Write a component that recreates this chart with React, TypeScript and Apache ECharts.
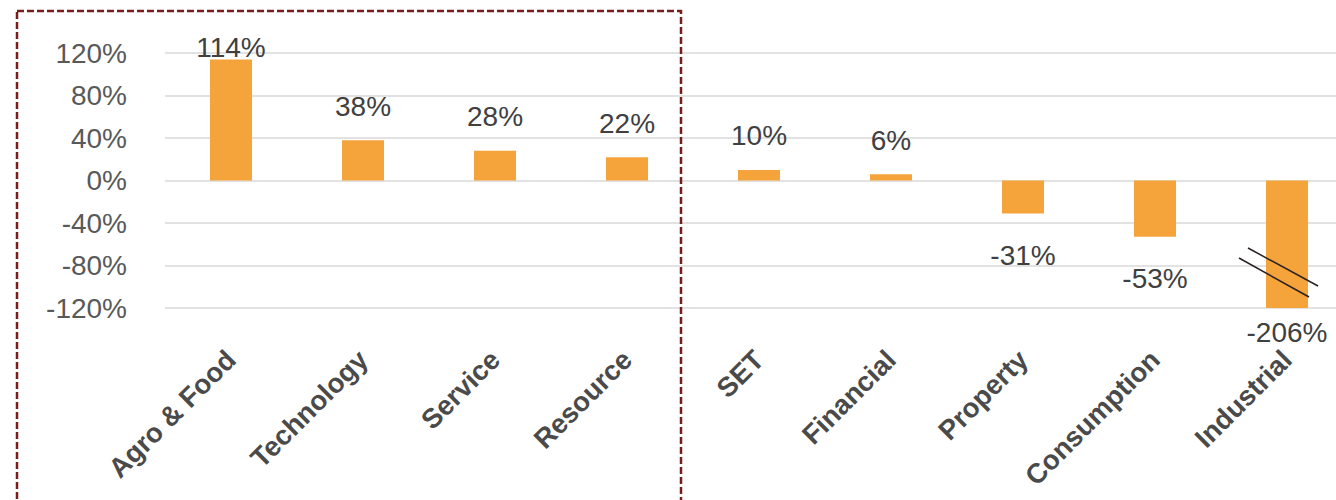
import React, { useEffect, useRef } from "react";
import * as echarts from "echarts";

const categories = [
  "Agro & Food",
  "Technology",
  "Service",
  "Resource",
  "SET",
  "Financial",
  "Property",
  "Consumption",
  "Industrial",
];
const values = [114, 38, 28, 22, 10, 6, -31, -53, -206];
const yMin = -120;
const yMax = 120;
const yInterval = 40;

const BAR_COLOR = "#F4A43A";
const FONT = "'Liberation Sans', Arial, sans-serif";

function labelFor(v: number, i: number) {
  const clipped = v < yMin || v > yMax;
  let distance = v >= 0 ? 20 : 28;
  if (v >= 0 && v + 10 > yMax) distance = -2;
  if (clipped) distance = 10;
  return {
    position: v >= 0 ? "top" : "bottom",
    distance,
  };
}

export default function App() {
  const ref = useRef<HTMLDivElement>(null);
  useEffect(() => {
    if (!ref.current) return;
    const chart = echarts.init(ref.current, undefined, { renderer: "svg" });
    chart.setOption({
      animation: false,
      backgroundColor: "#ffffff",
      grid: {
        left: 165,
        top: 53,
        height: 255,
        width: 1188,
        containLabel: false,
        outerBoundsMode: "none",
      },
      xAxis: {
        type: "category",
        data: categories,
        position: "bottom",
        axisLine: { show: false, onZero: false },
        axisTick: { show: false },
        axisLabel: {
          rotate: 45,
          margin: 47,
          interval: 0,
          fontFamily: FONT,
          fontWeight: "bold",
          fontSize: 27.5,
          color: "#4a4a4a",
        },
      },
      yAxis: {
        type: "value",
        min: yMin,
        max: yMax,
        interval: yInterval,
        axisLine: { show: false },
        axisTick: { show: false },
        splitLine: { lineStyle: { color: "#d9d9d9", width: 1.5 } },
        axisLabel: {
          formatter: (v: number) => `${v}%`,
          margin: 38,
          fontFamily: FONT,
          fontSize: 28,
          color: "#595959",
        },
      },
      series: [
        {
          type: "bar",
          clip: true,
          barWidth: 42,
          itemStyle: { color: BAR_COLOR },
          data: values.map((v, i) => ({
            value: v,
            label: labelFor(v, i),
          })),
          label: {
            show: true,
            formatter: (p: any) => `${p.value}%`,
            fontFamily: FONT,
            fontSize: 28,
            color: "#404040",
          },
        },
      ],
      graphic: [
        {
          type: "rect",
          shape: { x: 17, y: 11, width: 664, height: 540 },
          style: {
            fill: "none",
            stroke: "#7a1c1c",
            lineWidth: 2.5,
            lineDash: [7, 3],
          },
          z: 10,
        },
        {
          type: "line",
          shape: { x1: 1248, y1: 248, x2: 1318, y2: 286 },
          style: { stroke: "#2a2222", lineWidth: 1.5 },
          z: 10,
        },
        {
          type: "line",
          shape: { x1: 1239, y1: 258, x2: 1309, y2: 297 },
          style: { stroke: "#2a2222", lineWidth: 1.5 },
          z: 10,
        },
      ],
    });
    return () => chart.dispose();
  }, []);
  return (
    <div
      ref={ref}
      style={{ position: "absolute", left: 0, top: 0, width: 1336, height: 500 }}
    />
  );
}
